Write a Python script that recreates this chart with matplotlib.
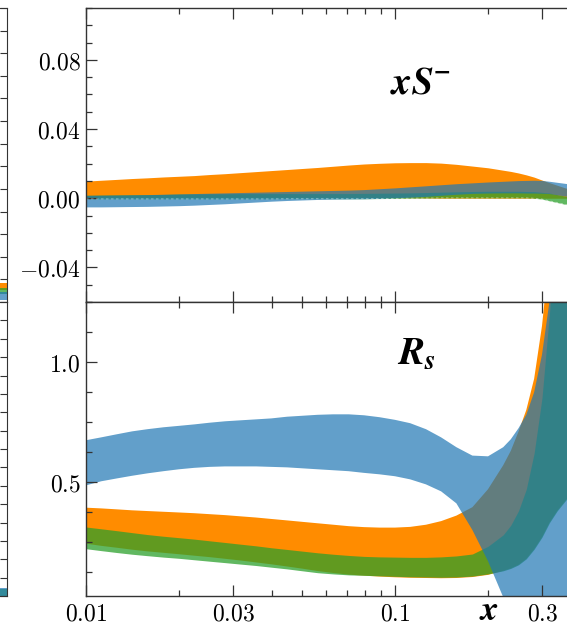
import numpy as np
import matplotlib
matplotlib.use('Agg')
import matplotlib.pyplot as plt
from matplotlib.ticker import FixedLocator, LogLocator, MultipleLocator, NullFormatter

plt.rcParams['mathtext.fontset'] = 'cm'

# x grid (log x)
x = [0.01, 0.0112, 0.0126, 0.0141, 0.0158, 0.0178, 0.02, 0.0224, 0.0251, 0.0282,
     0.0316, 0.0355, 0.0398, 0.0447, 0.0501, 0.0562, 0.0631, 0.0708, 0.0794, 0.0891,
     0.1, 0.112, 0.126, 0.141, 0.158, 0.178, 0.2, 0.224, 0.237, 0.251,
     0.266, 0.282, 0.299, 0.316, 0.335, 0.355, 0.398]

# xS^- bands
sm_orange_hi = [0.0099, 0.0104, 0.0109, 0.0114, 0.0118, 0.0123, 0.0127, 0.0131, 0.0137, 0.0142,
                0.0148, 0.0154, 0.016, 0.0166, 0.0172, 0.0178, 0.0185, 0.0192, 0.0198, 0.0202,
                0.0205, 0.0206, 0.0206, 0.0203, 0.0196, 0.0186, 0.0176, 0.0162, 0.0155, 0.0146,
                0.0135, 0.0122, 0.0105, 0.009, 0.0075, 0.006, 0.004]
sm_orange_lo = [0.0005, 0.0005, 0.0005, 0.0005, 0.0005, 0.0005, 0.0005, 0.0005, 0.0005, 0.0005,
                0.0005, 0.0005, 0.0005, 0.0005, 0.0005, 0.0005, 0.0005, 0.0005, 0.0005, 0.0004,
                0.0003, 0.0002, 0.0001, 0.0, 0.0, 0.0, 0.0, 0.0, 0.0, 0.0,
                0.0, 0.0, 0.0, 0.0, 0.0, 0.0, 0.0]
sm_green_hi = [0.0017, 0.0018, 0.0019, 0.002, 0.0021, 0.0022, 0.0024, 0.0025, 0.0026, 0.0026,
               0.0027, 0.0027, 0.0027, 0.0027, 0.0027, 0.0027, 0.0027, 0.0027, 0.0028, 0.0029,
               0.003, 0.0031, 0.0033, 0.0035, 0.0037, 0.0039, 0.004, 0.004, 0.004, 0.004,
               0.0039, 0.0038, 0.0034, 0.003, 0.0021, 0.0012, 0.0]
sm_green_lo = [-0.0004, -0.0004, -0.0004, -0.0004, -0.0004, -0.0004, -0.0004, -0.0004, -0.0004, -0.0004,
               -0.0004, -0.0004, -0.0004, -0.0003, -0.0003, -0.0003, -0.0003, -0.0003, -0.0003, -0.0002,
               -0.0001, 0.0, 0.0001, 0.0002, 0.0002, 0.0002, 0.0002, 0.0002, 0.0002, 0.0002,
               0.0002, 0.0, -0.0005, -0.0015, -0.0025, -0.0035, -0.005]
sm_blue_hi = [0.0017, 0.0018, 0.0019, 0.002, 0.0021, 0.0023, 0.0025, 0.0027, 0.0029, 0.0031,
              0.0033, 0.0035, 0.0037, 0.0039, 0.0041, 0.0043, 0.0045, 0.0047, 0.005, 0.0055,
              0.006, 0.0066, 0.0072, 0.0078, 0.0084, 0.0089, 0.0094, 0.0098, 0.01, 0.0102,
              0.0103, 0.0104, 0.0103, 0.0098, 0.0092, 0.0086, 0.0075]
sm_blue_lo = [-0.005, -0.005, -0.0049, -0.0048, -0.0047, -0.0045, -0.0043, -0.004, -0.0036, -0.0032,
              -0.0027, -0.0022, -0.0017, -0.0013, -0.001, -0.0007, -0.0005, -0.0004, -0.0003, -0.0001,
              0.0002, 0.0006, 0.0011, 0.0017, 0.0023, 0.0028, 0.003, 0.0031, 0.0031, 0.0031,
              0.003, 0.003, 0.0029, 0.0027, 0.002, 0.0013, 0.0005]

# R_s bands
rs_blue_hi = [0.674, 0.686, 0.699, 0.711, 0.72, 0.728, 0.734, 0.74, 0.747, 0.753,
              0.757, 0.761, 0.765, 0.772, 0.776, 0.78, 0.782, 0.782, 0.778, 0.77,
              0.759, 0.745, 0.72, 0.686, 0.645, 0.61, 0.607, 0.645, 0.678, 0.724,
              0.78, 0.874, 1.03, 1.25, 1.5, 1.8, 2.4]
rs_blue_lo = [0.486, 0.503, 0.515, 0.526, 0.536, 0.545, 0.553, 0.559, 0.563, 0.565,
              0.565, 0.565, 0.563, 0.561, 0.557, 0.553, 0.549, 0.545, 0.538, 0.532,
              0.524, 0.511, 0.49, 0.461, 0.411, 0.30, 0.17, 0.02, -0.08, -0.2,
              -0.35, -0.5, -0.7, -0.9, -1.1, -1.3, -1.6]
rs_orange_hi = [0.393, 0.39, 0.386, 0.382, 0.379, 0.376, 0.373, 0.37, 0.366, 0.362,
                0.357, 0.352, 0.346, 0.34, 0.334, 0.328, 0.322, 0.316, 0.312, 0.31,
                0.31, 0.313, 0.322, 0.337, 0.36, 0.395, 0.47, 0.57, 0.63, 0.71,
                0.8, 0.93, 1.15, 1.45, 1.8, 2.2, 2.8]
rs_orange_lo = [0.243, 0.234, 0.226, 0.218, 0.211, 0.205, 0.199, 0.193, 0.187, 0.18,
                0.173, 0.165, 0.157, 0.148, 0.139, 0.129, 0.121, 0.114, 0.11, 0.106,
                0.103, 0.101, 0.1, 0.099, 0.1, 0.104, 0.113, 0.13, 0.14, 0.155,
                0.18, 0.22, 0.27, 0.33, 0.38, 0.42, 0.5]
rs_green_hi = [0.3125, 0.305, 0.297, 0.289, 0.281, 0.274, 0.268, 0.262, 0.255, 0.248,
               0.241, 0.234, 0.226, 0.219, 0.212, 0.205, 0.199, 0.194, 0.19, 0.188,
               0.187, 0.186, 0.186, 0.188, 0.192, 0.2, 0.232, 0.28, 0.32, 0.38,
               0.47, 0.62, 0.85, 1.2, 1.6, 2.0, 2.6]
rs_green_lo = [0.222, 0.214, 0.206, 0.199, 0.193, 0.187, 0.182, 0.176, 0.17, 0.164,
               0.158, 0.152, 0.145, 0.138, 0.13, 0.122, 0.117, 0.113, 0.111, 0.109,
               0.107, 0.105, 0.104, 0.103, 0.104, 0.108, 0.117, 0.13, 0.14, 0.155,
               0.18, 0.22, 0.27, 0.33, 0.38, 0.42, 0.5]

# slivers of the neighbouring panel on the left
left_x = [0.9, 1.0]
left_top_orange = [[0.55, 0.55], [0.85, 0.85]]
left_top_green = [[0.35, 0.35], [0.6, 0.6]]
left_top_blue = [[0.1, 0.1], [0.45, 0.45]]
left_bot_green = [[0.0, 0.0], [0.4, 0.4]]
left_bot_blue = [[0.0, 0.0], [0.45, 0.45]]

orange = '#ff8c00'
green = '#2ca02c'
blue = '#1f77b4'
spine_col = '#333333'

W, H = 567, 626
fig = plt.figure(figsize=(W / 100, H / 100), dpi=100)

x_lo, x_hi = 0.01, 0.4
ax_w = (309 * np.log10(x_hi / x_lo)) / W
ax_top = fig.add_axes([86 / W, (H - 302) / H, ax_w, 294 / H])
ax_bot = fig.add_axes([86 / W, (H - 596) / H, ax_w, 294 / H])


def style(ax):
    for s in ax.spines.values():
        s.set_color(spine_col)
        s.set_linewidth(1.0)
    ax.tick_params(which='both', direction='in', top=True, right=True, color=spine_col, width=0.9)
    ax.tick_params(which='major', length=8, labelsize=17, pad=4)
    ax.tick_params(which='minor', length=4.5)


for ax in (ax_top, ax_bot):
    ax.set_xscale('log')
    ax.set_xlim(x_lo, x_hi)
    ax.xaxis.set_major_locator(FixedLocator([0.01, 0.03, 0.1, 0.3]))
    ax.xaxis.set_minor_locator(LogLocator(base=10, subs=np.arange(1, 10)))
    ax.xaxis.set_minor_formatter(NullFormatter())
    style(ax)

# top: xS^-
ax_top.fill_between(x, sm_orange_lo, sm_orange_hi, color=orange, lw=0)
ax_top.fill_between(x, sm_green_lo, sm_green_hi, color=green, alpha=0.75, lw=0)
ax_top.fill_between(x, sm_blue_lo, sm_blue_hi, color=blue, alpha=0.7, lw=0)
ax_top.plot(x, sm_green_lo, color='white', lw=0.6, ls=(0, (3, 3)), alpha=0.5)
ax_top.set_ylim(-0.06, 0.11)
ax_top.yaxis.set_major_locator(FixedLocator([-0.04, 0.0, 0.04, 0.08]))
ax_top.set_yticklabels([r'$-0.04$', r'$0.00$', r'$0.04$', r'$0.08$'])
ax_top.yaxis.set_minor_locator(MultipleLocator(0.01))
ax_top.set_xticklabels([])

# bottom: R_s
ax_bot.fill_between(x, rs_orange_lo, rs_orange_hi, color=orange, lw=0)
ax_bot.fill_between(x, rs_green_lo, rs_green_hi, color=green, alpha=0.75, lw=0)
ax_bot.fill_between(x, rs_blue_lo, rs_blue_hi, color=blue, alpha=0.7, lw=0)
ax_bot.set_ylim(0.025, 1.25)
ax_bot.yaxis.set_major_locator(FixedLocator([0.5, 1.0]))
ax_bot.set_yticklabels([r'$0.5$', r'$1.0$'])
ax_bot.yaxis.set_minor_locator(MultipleLocator(0.125))
ax_bot.set_xticklabels([r'$0.01$', r'$0.03$', r'$0.1$', r'$0.3$'])

fig.text(420 / W, (H - 83) / H, r'$\mathbfit{xS^{-}}$', fontsize=28, math_fontfamily='stix',
         ha='center', va='center')
fig.text(416 / W, (H - 353) / H, r'$\mathbfit{R_s}$', fontsize=28, math_fontfamily='stix',
         ha='center', va='center')
fig.text(489 / W, (H - 610) / H, r'$\mathbfit{x}$', fontsize=25, math_fontfamily='stix',
         ha='center', va='center')

# slivers of the left neighbour panel
lw_ = 300 / W
sl_top = fig.add_axes([(7 - 300) / W, (H - 302) / H, lw_, 294 / H])
sl_bot = fig.add_axes([(7 - 300) / W, (H - 596) / H, lw_, 294 / H])
sl_top.fill_between(left_x, left_top_orange[0], left_top_orange[1], color=orange, lw=0)
sl_top.fill_between(left_x, left_top_green[0], left_top_green[1], color=green, alpha=0.75, lw=0)
sl_top.fill_between(left_x, left_top_blue[0], left_top_blue[1], color=blue, alpha=0.7, lw=0)
sl_bot.fill_between(left_x, left_bot_green[0], left_bot_green[1], color=green, alpha=0.75, lw=0)
sl_bot.fill_between(left_x, left_bot_blue[0], left_bot_blue[1], color=blue, alpha=0.7, lw=0)
sl_top.set_ylim(0, 13)
sl_bot.set_ylim(0, 16)
for ax in (sl_top, sl_bot):
    ax.set_xlim(0, 1)
    ax.yaxis.set_major_locator(MultipleLocator(1))
    ax.set_xticks([])
    ax.set_yticklabels([])
    for s in ax.spines.values():
        s.set_color(spine_col)
    ax.tick_params(which='both', direction='in', right=True, left=False, length=5, color=spine_col)

fig.savefig('out.png', dpi=100)
